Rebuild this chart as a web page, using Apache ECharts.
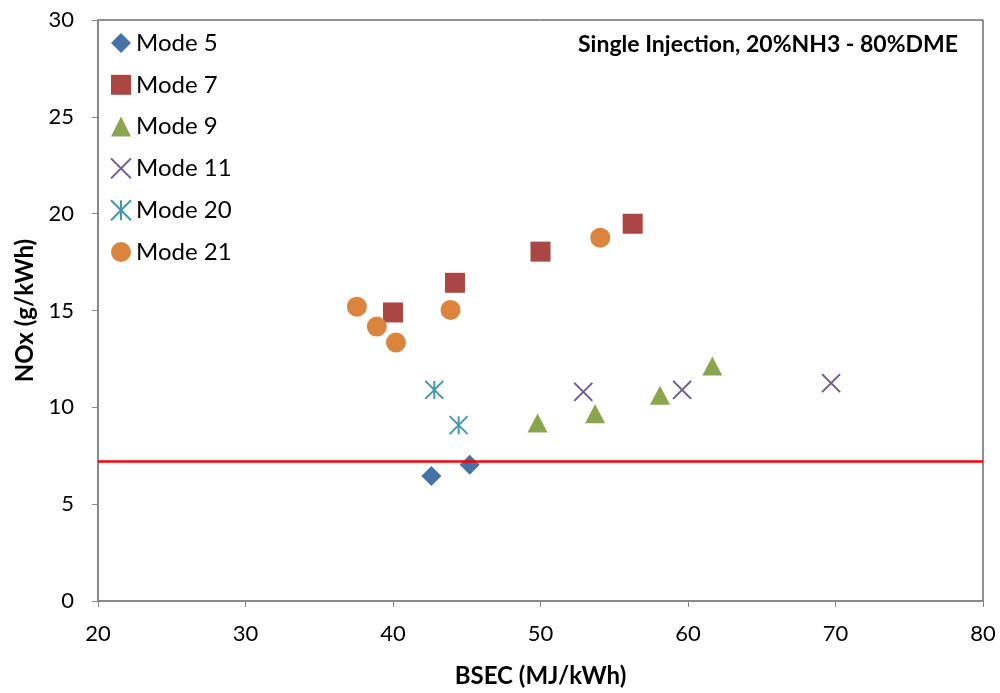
<!DOCTYPE html>
<html><head><meta charset="utf-8">
<script src="https://cdn.jsdelivr.net/npm/echarts@6/dist/echarts.min.js"></script>
<style>html,body{margin:0;padding:0;background:#fff}#c{width:1000px;height:693px}</style>
</head><body><div id="c"></div>
<script>
const xTicks = [20, 30, 40, 50, 60, 70, 80];
const yTicks = [0, 5, 10, 15, 20, 25, 30];
const seriesNames = ['Mode 5', 'Mode 7', 'Mode 9', 'Mode 11', 'Mode 20', 'Mode 21'];
const mode5 = [[42.6, 6.45], [45.2, 7.03]];
const mode7 = [[40.0, 14.9], [44.2, 16.43], [50.0, 18.04], [56.25, 19.48]];
const mode9 = [[49.8, 9.19], [53.7, 9.67], [58.1, 10.63], [61.65, 12.13]];
const mode11 = [[52.9, 10.8], [59.6, 10.9], [69.7, 11.25]];
const mode20 = [[42.8, 10.9], [44.45, 9.08]];
const mode21 = [[37.55, 15.2], [38.9, 14.17], [40.2, 13.35], [43.9, 15.03], [54.05, 18.76]];
const limitValue = 7.2;
const titleText = 'Single Injection, 20%NH3 - 80%DME';

const FONT = 'Lato, "Open Sans", sans-serif';
const xPath = 'path://M0,0L10,10M10,0L0,10';
const starPath = 'path://M5,0L5,10M0,0L10,10M10,0L0,10';

const chart = echarts.init(document.getElementById('c'), null, {renderer: 'canvas'});
chart.setOption({
  animation: false,
  backgroundColor: '#fff',
  title: {
    text: titleText, right: 37, top: 28,
    textStyle: {fontFamily: FONT, fontSize: 23, fontWeight: 'bold', color: '#000'}
  },
  legend: {
    orient: 'vertical', left: 105, top: 26,
    itemWidth: 20, itemHeight: 20, itemGap: 17.8,
    textStyle: {fontFamily: FONT, fontSize: 24, lineHeight: 20, color: '#000'},
    data: seriesNames
  },
  grid: {left: 98, right: 17, top: 20, bottom: 91, show: true, borderColor: '#222', borderWidth: 1},
  xAxis: {
    type: 'value', min: xTicks[0], max: xTicks[xTicks.length - 1], interval: 10,
    name: 'BSEC (MJ/kWh)', nameLocation: 'middle', nameGap: 63,
    nameTextStyle: {fontFamily: FONT, fontSize: 24, fontWeight: 'bold', color: '#000'},
    axisLine: {show: true, onZero: false, lineStyle: {color: '#868686', width: 1.5}},
    axisTick: {show: true, inside: false, length: 6, lineStyle: {color: '#868686'}},
    axisLabel: {fontFamily: FONT, fontSize: 22, color: '#000', margin: 22},
    splitLine: {show: false}
  },
  yAxis: {
    type: 'value', min: yTicks[0], max: yTicks[yTicks.length - 1], interval: 5,
    name: 'NOx (g/kWh)', nameLocation: 'middle', nameGap: 58,
    nameTextStyle: {fontFamily: FONT, fontSize: 24, fontWeight: 'bold', color: '#000'},
    axisLine: {show: true, onZero: false, lineStyle: {color: '#868686', width: 1.5}},
    axisTick: {show: true, inside: false, length: 6, lineStyle: {color: '#868686'}},
    axisLabel: {fontFamily: FONT, fontSize: 22, color: '#000', margin: 24},
    splitLine: {show: false}
  },
  series: [
    {name: seriesNames[0], type: 'scatter', data: mode5, symbol: 'diamond', symbolSize: 20,
     itemStyle: {color: '#4572A7', opacity: 1},
     markLine: {silent: true, symbol: 'none', label: {show: false},
       lineStyle: {color: '#FF0000', width: 2.5, type: 'solid'},
       data: [{yAxis: limitValue}]}},
    {name: seriesNames[1], type: 'scatter', data: mode7, symbol: 'rect', symbolSize: 20,
     itemStyle: {color: '#AA4643', opacity: 1}},
    {name: seriesNames[2], type: 'scatter', data: mode9, symbol: 'triangle', symbolSize: [20, 19],
     itemStyle: {color: '#89A54E', opacity: 1}},
    {name: seriesNames[3], type: 'scatter', data: mode11, symbol: xPath, symbolSize: 18,
     itemStyle: {color: 'rgba(0,0,0,0)', borderColor: '#71588F', borderWidth: 2, opacity: 1}},
    {name: seriesNames[4], type: 'scatter', data: mode20, symbol: starPath, symbolSize: 18,
     itemStyle: {color: 'rgba(0,0,0,0)', borderColor: '#4198AF', borderWidth: 2, opacity: 1}},
    {name: seriesNames[5], type: 'scatter', data: mode21, symbol: 'circle', symbolSize: 20,
     itemStyle: {color: '#DB843D', opacity: 1}}
  ]
});
</script></body></html>
